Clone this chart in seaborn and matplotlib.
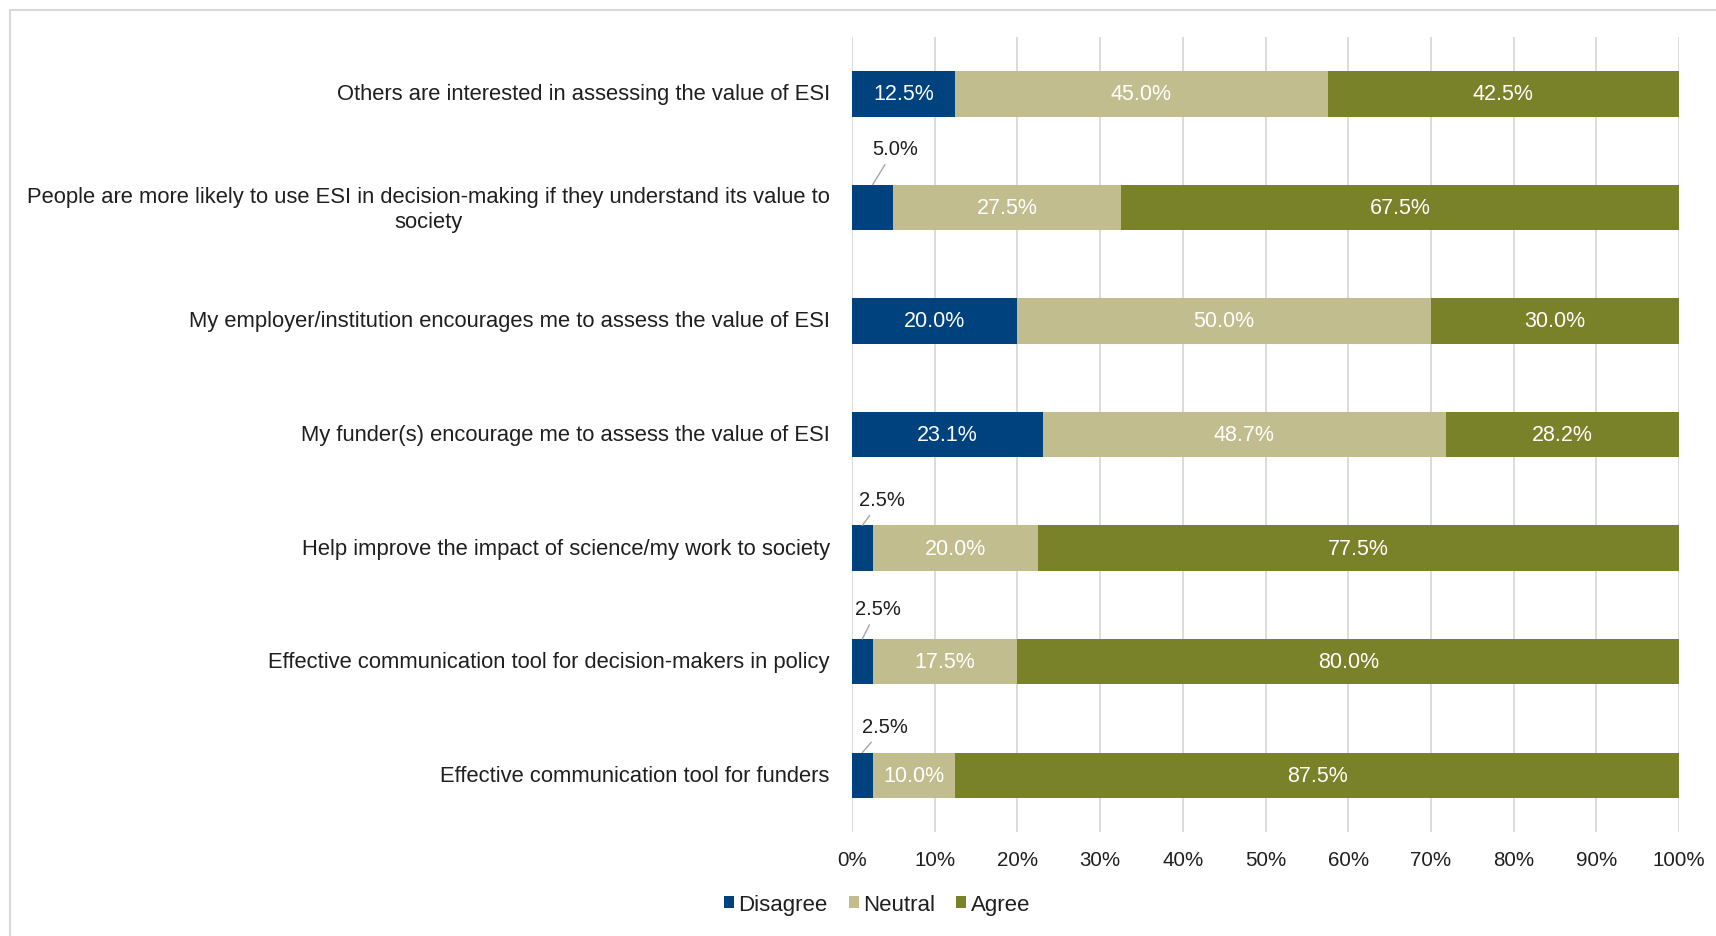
import matplotlib
matplotlib.use("Agg")
import matplotlib.pyplot as plt
from matplotlib.patches import Patch, Rectangle
from matplotlib.transforms import ScaledTranslation
import seaborn as sns
import pandas as pd

# Survey statements and response shares (%)
statements = [
    "Others are interested in assessing the value of ESI",
    "People are more likely to use ESI in decision-making if they understand its value to\nsociety",
    "My employer/institution encourages me to assess the value of ESI",
    "My funder(s) encourage me to assess the value of ESI",
    "Help improve the impact of science/my work to society",
    "Effective communication tool for decision-makers in policy",
    "Effective communication tool for funders",
]
disagree = [12.5, 5.0, 20.0, 23.1, 2.5, 2.5, 2.5]
neutral = [45.0, 27.5, 50.0, 48.7, 20.0, 17.5, 10.0]
agree = [42.5, 67.5, 30.0, 28.2, 77.5, 80.0, 87.5]

series_names = ["Disagree", "Neutral", "Agree"]
colors = {"Disagree": "#00427e", "Neutral": "#c1bd8f", "Agree": "#7a8229"}

sns.set_style("white")
plt.rcParams["font.family"] = ["Liberation Sans", "DejaVu Sans"]
text_color = "#1f1f1f"

df = pd.DataFrame({"statement": statements, "Disagree": disagree,
                   "Neutral": neutral, "Agree": agree})
df["cum_neutral"] = df["Disagree"] + df["Neutral"]
df["cum_agree"] = df["cum_neutral"] + df["Agree"]

fig = plt.figure(figsize=(17.16, 9.37), dpi=100)
ax = fig.add_axes([852 / 1716, 1 - 833 / 937, 827 / 1716, 795 / 937])

# Stacked bars: draw cumulative totals back to front
bar_w = 0.4
for col, name in [("cum_agree", "Agree"), ("cum_neutral", "Neutral"), ("Disagree", "Disagree")]:
    sns.barplot(data=df, y="statement", x=col, orient="h", color=colors[name],
                saturation=1, width=bar_w, linewidth=0, ax=ax)

# Segment labels
lefts = {"Disagree": [0] * len(df), "Neutral": list(df["Disagree"]), "Agree": list(df["cum_neutral"])}
callout_pos = {1: (5.2, 0.52), 4: (3.6, 0.43), 5: (3.1, 0.47), 6: (4.0, 0.43)}
for i in range(len(df)):
    for name in series_names:
        v = df.loc[i, name]
        x0 = lefts[name][i]
        if v < 6 and i in callout_pos:
            lx, dy = callout_pos[i]
            ax.annotate(f"{v:.1f}%", xy=(x0 + v / 2, i - bar_w / 2), xytext=(lx, i - dy),
                        ha="center", va="center", fontsize=14.5, color=text_color,
                        arrowprops=dict(arrowstyle="-", color="#a6a6a6", lw=1.0,
                                        shrinkA=3, shrinkB=0))
        else:
            ax.text(x0 + v / 2, i, f"{v:.1f}%", ha="center", va="center",
                    fontsize=15.5, color="white")

ax.set_xlim(0, 100)
ax.set_ylim(6.5, -0.5)
ticks = list(range(0, 101, 10))
ax.set_xticks(ticks)
ax.set_xticklabels([f"{t}%" for t in ticks])
ax.set_xlabel("")
ax.set_ylabel("")
ax.xaxis.grid(True, color="#d9d9d9", lw=1.3)
ax.yaxis.grid(False)
ax.set_axisbelow(True)
for s in ax.spines.values():
    s.set_visible(False)
ax.tick_params(axis="x", length=0, pad=13, labelsize=14.8, labelcolor=text_color)
ax.tick_params(axis="y", length=0, pad=16, labelsize=15.8, labelcolor=text_color)
lift = ScaledTranslation(0, 2.5 / 100, fig.dpi_scale_trans)
for lbl in ax.get_yticklabels():
    lbl.set_multialignment("center")
    lbl.set_transform(lbl.get_transform() + lift)

handles = [Patch(facecolor=colors[n], edgecolor="none") for n in series_names]
fig.legend(handles, series_names, loc="center", bbox_to_anchor=(0.511, 0.034), ncol=3,
           frameon=False, fontsize=16, handlelength=0.45, handleheight=0.45,
           handletextpad=0.2, columnspacing=0.95, labelcolor=text_color)

# Chart-area border
fig.patches.append(Rectangle((10 / 1716, -0.1), 1.2, 1.1 - 11 / 937, transform=fig.transFigure,
                             fill=False, edgecolor="#d9d9d9", lw=1.5))

fig.savefig("out.png", dpi=100)
